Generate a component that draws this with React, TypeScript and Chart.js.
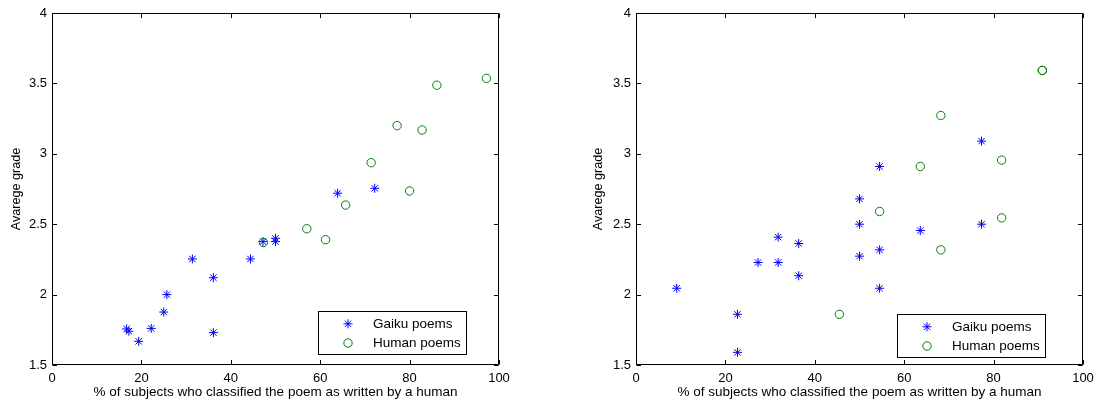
import React, { useEffect, useRef } from 'react';
import { Chart, registerables } from 'chart.js';

Chart.register(...registerables);

// ---------- data ----------
const X_TICKS = [0, 20, 40, 60, 80, 100];
const Y_TICKS = [1.5, 2, 2.5, 3, 3.5, 4];
const X_TITLE = '% of subjects who classified the poem as written by a human';
const Y_TITLE = 'Avarege grade';
const SERIES_NAMES = ['Gaiku poems', 'Human poems'];

const leftGaikuX = [16.7, 17.2, 19.4, 22.2, 25.0, 25.7, 31.4, 36.1, 36.1, 44.4, 47.2, 50.0, 50.0, 63.9, 72.2];
const leftGaikuY = [1.756, 1.74, 1.668, 1.76, 1.876, 2.0, 2.253, 2.12, 1.73, 2.253, 2.376, 2.4, 2.376, 2.72, 2.755];
const leftHumanX = [47.3, 57.0, 61.2, 65.7, 80.0, 71.4, 77.2, 82.8, 86.1, 97.2];
const leftHumanY = [2.37, 2.468, 2.39, 2.636, 2.736, 2.937, 3.2, 3.169, 3.487, 3.536];

const rightGaikuX = [77.3, 54.5, 50.0, 50.0, 77.3, 63.6, 31.8, 36.4, 54.5, 50.0, 27.3, 31.8, 36.4, 9.1, 54.5, 22.7, 22.7];
const rightGaikuY = [3.09, 2.91, 2.68, 2.5, 2.5, 2.455, 2.408, 2.363, 2.318, 2.273, 2.228, 2.228, 2.134, 2.045, 2.045, 1.86, 1.59];
const rightHumanX = [90.9, 90.9, 68.2, 81.8, 63.6, 54.5, 81.8, 68.2, 45.5];
const rightHumanY = [3.592, 3.592, 3.272, 2.955, 2.91, 2.59, 2.545, 2.318, 1.86];

// ---------- styles ----------
const FONT_FAMILY = '"Liberation Sans", Arial, Helvetica, sans-serif';
const BLUE = 'rgb(0,0,255)';
const GREEN = 'rgb(0,128,0)';

type PanelCfg = {
  left: number;
  width: number;
  yTitlePad: number;
  legendRight: number;
  legendBottom: number;
};

const drawStar = (ctx: CanvasRenderingContext2D, x: number, y: number, r: number) => {
  const d = r * Math.SQRT1_2;
  ctx.beginPath();
  ctx.moveTo(x - r, y);
  ctx.lineTo(x + r, y);
  ctx.moveTo(x, y - r);
  ctx.lineTo(x, y + r);
  ctx.moveTo(x - d, y - d);
  ctx.lineTo(x + d, y + d);
  ctx.moveTo(x - d, y + d);
  ctx.lineTo(x + d, y - d);
  ctx.stroke();
};

const framePlugin = {
  id: 'matlabFrame',
  afterDatasetsDraw(chart: any) {
    const { ctx, chartArea: a, scales } = chart;
    const L = Math.round(a.left) + 0.5;
    const R = Math.round(a.right) - 0.5;
    const T = Math.round(a.top) + 0.5;
    const B = Math.round(a.bottom) - 0.5;
    const tl = 4.5;
    ctx.save();
    ctx.strokeStyle = '#000';
    ctx.lineWidth = 1;
    ctx.beginPath();
    ctx.rect(L, T, R - L, B - T);
    ctx.stroke();
    ctx.beginPath();
    X_TICKS.forEach((v) => {
      const px = Math.round(scales.x.getPixelForValue(v)) + 0.5;
      ctx.moveTo(px, B);
      ctx.lineTo(px, B - tl);
      ctx.moveTo(px, T);
      ctx.lineTo(px, T + tl);
    });
    Y_TICKS.forEach((v) => {
      const py = Math.round(scales.y.getPixelForValue(v)) + 0.5;
      ctx.moveTo(L, py);
      ctx.lineTo(L + tl, py);
      ctx.moveTo(R, py);
      ctx.lineTo(R - tl, py);
    });
    ctx.stroke();
    ctx.restore();
  },
};

const legendPlugin = {
  id: 'matlabLegend',
  afterDraw(chart: any, _args: any, opts: any) {
    const { ctx, chartArea: a } = chart;
    const w = 148;
    const h = 43;
    const x0 = Math.round(a.right - opts.right - w) + 0.5;
    const y0 = Math.round(a.bottom - opts.bottom - h) + 0.5;
    ctx.save();
    ctx.fillStyle = '#fff';
    ctx.fillRect(x0, y0, w, h);
    ctx.strokeStyle = '#000';
    ctx.lineWidth = 1;
    ctx.strokeRect(x0, y0, w, h);
    const rows = [12.3, 31.5];
    const mx = x0 + 29.5;
    chart.data.datasets.forEach((ds: any, i: number) => {
      const my = y0 + rows[i];
      ctx.strokeStyle = ds.borderColor;
      ctx.lineWidth = 1;
      if (ds.pointStyle === 'star') {
        drawStar(ctx, mx, my, 4.5);
      } else {
        ctx.beginPath();
        ctx.arc(mx, my, 4.2, 0, Math.PI * 2);
        ctx.stroke();
      }
      ctx.fillStyle = '#000';
      ctx.font = `13.5px ${FONT_FAMILY}`;
      ctx.textBaseline = 'middle';
      ctx.textAlign = 'left';
      ctx.fillText(ds.label, x0 + 54.5, my + 0.5);
    });
    ctx.restore();
  },
};

const toPoints = (xs: number[], ys: number[]) => xs.map((x, i) => ({ x, y: ys[i] }));

function Panel(props: {
  gx: number[];
  gy: number[];
  hx: number[];
  hy: number[];
  cfg: PanelCfg;
}) {
  const ref = useRef<HTMLCanvasElement | null>(null);
  const { gx, gy, hx, hy, cfg } = props;

  useEffect(() => {
    if (!ref.current) return;
    const chart = new Chart(ref.current, {
      type: 'scatter',
      data: {
        datasets: [
          {
            label: SERIES_NAMES[0],
            data: toPoints(gx, gy),
            pointStyle: 'star',
            pointRadius: 4.5,
            borderColor: BLUE,
            backgroundColor: BLUE,
            pointBorderWidth: 1,
            pointHoverRadius: 4.5,
          },
          {
            label: SERIES_NAMES[1],
            data: toPoints(hx, hy),
            pointStyle: 'circle',
            pointRadius: 4.2,
            borderColor: GREEN,
            backgroundColor: 'rgba(0,0,0,0)',
            pointBorderWidth: 1,
            pointHoverRadius: 4.2,
          },
        ],
      },
      options: {
        animation: false,
        responsive: true,
        maintainAspectRatio: false,
        events: [],
        layout: { padding: { left: 0, right: cfg.width - 499, top: 13, bottom: 0 } },
        plugins: {
          legend: { display: false },
          tooltip: { enabled: false },
          matlabLegend: { right: cfg.legendRight, bottom: cfg.legendBottom },
        } as any,
        scales: {
          x: {
            type: 'linear',
            min: 0,
            max: 100,
            afterBuildTicks: (s: any) => {
              s.ticks = X_TICKS.map((v) => ({ value: v }));
            },
            afterFit: (s: any) => {
              s.height = 36;
              s.paddingLeft = 0;
              s.paddingRight = 0;
            },
            grid: { display: false, drawTicks: false },
            border: { display: false },
            ticks: {
              color: '#000',
              padding: 6,
              autoSkip: false,
              maxRotation: 0,
              font: { family: FONT_FAMILY, size: 13 },
              callback: (v: any) => String(v),
            },
            title: {
              display: true,
              text: X_TITLE,
              color: '#000',
              font: { family: FONT_FAMILY, size: 13.5 },
              padding: { top: 0, bottom: 1 },
            },
          },
          y: {
            type: 'linear',
            min: 1.5,
            max: 4,
            afterBuildTicks: (s: any) => {
              s.ticks = Y_TICKS.map((v) => ({ value: v }));
            },
            afterFit: (s: any) => {
              s.width = 52;
              s.paddingTop = 0;
              s.paddingBottom = 0;
            },
            grid: { display: false, drawTicks: false },
            border: { display: false },
            ticks: {
              color: '#000',
              padding: 5,
              autoSkip: false,
              font: { family: FONT_FAMILY, size: 13 },
              callback: (v: any) => String(v),
            },
            title: {
              display: true,
              text: Y_TITLE,
              color: '#000',
              font: { family: FONT_FAMILY, size: 12.6 },
              padding: { top: cfg.yTitlePad, bottom: 0 },
            },
          },
        },
      },
      plugins: [framePlugin, legendPlugin],
    } as any);
    return () => chart.destroy();
  }, [gx, gy, hx, hy, cfg]);

  return (
    <div
      style={{
        position: 'absolute',
        left: cfg.left,
        top: 0,
        width: cfg.width,
        height: 401,
      }}
    >
      <canvas ref={ref} />
    </div>
  );
}

const LEFT_CFG: PanelCfg = { left: 0, width: 548, yTitlePad: 8.5, legendRight: 33, legendBottom: 11 };
const RIGHT_CFG: PanelCfg = { left: 584, width: 511, yTitlePad: 6.5, legendRight: 38, legendBottom: 8 };

export default function App() {
  return (
    <div
      style={{
        position: 'absolute',
        left: 0,
        top: 0,
        width: 1095,
        height: 401,
        background: '#fff',
        overflow: 'hidden',
      }}
    >
      <Panel gx={leftGaikuX} gy={leftGaikuY} hx={leftHumanX} hy={leftHumanY} cfg={LEFT_CFG} />
      <Panel gx={rightGaikuX} gy={rightGaikuY} hx={rightHumanX} hy={rightHumanY} cfg={RIGHT_CFG} />
    </div>
  );
}
